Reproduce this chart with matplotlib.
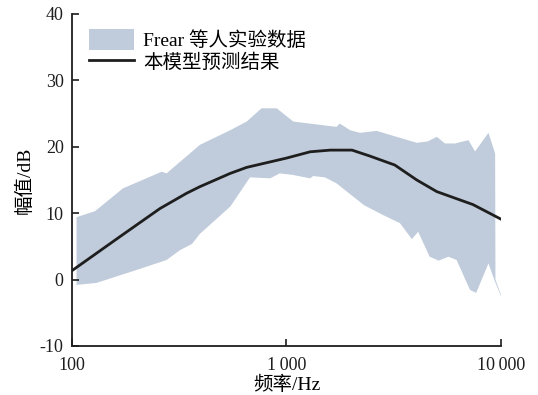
import numpy as np
import matplotlib
matplotlib.use("Agg")
import matplotlib.pyplot as plt
import matplotlib.patches as mpatches
from matplotlib.legend_handler import HandlerPatch

plt.rcParams['font.family'] = ['Liberation Serif', 'Noto Sans CJK SC', 'DejaVu Sans']
plt.rcParams['axes.unicode_minus'] = False

# Frear et al. measured range: upper and lower envelope (Hz, dB)
freq_upper = [105, 128, 173, 262, 276, 395, 547, 652, 765, 900, 1076, 1710, 1770,
              1980, 2200, 2630, 3260, 4050, 4540, 5020, 5480, 6100, 7050, 7570,
              8740, 9390, 9420, 10000]
amp_upper = [9.4, 10.3, 13.75, 16.25, 16.0, 20.3, 22.5, 23.8, 25.8, 25.8, 23.8, 23.0, 23.5,
             22.5, 22.1, 22.4, 21.5, 20.6, 20.8, 21.5, 20.5, 20.5, 21.0, 19.3,
             22.1, 19.0, 0.0, -2.3]

freq_lower = [105, 130, 200, 276, 319, 362, 395, 547, 676, 840, 930, 1076, 1220, 1290,
              1330, 1510, 1710, 2300, 2830, 3380, 3840, 4110, 4650, 5120, 5690, 6210,
              7170, 7660, 8740, 9300, 10000]
amp_lower = [-0.8, -0.5, 1.45, 2.95, 4.45, 5.35, 6.9, 11.0, 15.4, 15.25, 16.0, 15.75, 15.4, 15.25,
             15.6, 15.4, 14.5, 11.2, 9.7, 8.5, 6.1, 7.2, 3.45, 2.85, 3.45, 2.95,
             -1.55, -2.0, 2.45, 0.0, -2.5]

# Model prediction
freq_model = [100, 167, 257, 342, 395, 547, 652, 1000, 1290, 1600, 2020, 2450, 3200,
              4050, 5020, 7400, 10000]
amp_model = [1.35, 6.45, 10.7, 13.0, 14.0, 16.0, 16.9, 18.3, 19.25, 19.5, 19.5, 18.6, 17.25,
             15.0, 13.25, 11.3, 9.1]

x_ticks = [100, 1000, 10000]
x_ticklabels = ['100', '1\u2009000', '10\u2009000']
y_ticks = [-10, 0, 10, 20, 30, 40]

fig = plt.figure(figsize=(5.38, 3.95), dpi=100)
ax = fig.add_axes([72 / 538, 1 - 346 / 395, 429 / 538, 332 / 395])

band_x = np.concatenate([freq_upper, freq_lower[::-1]])
band_y = np.concatenate([amp_upper, amp_lower[::-1]])
ax.fill(band_x, band_y, color='#c0ccdb', lw=0, label='Frear 等人实验数据')
ax.plot(freq_model, amp_model, color='#1e1e1e', lw=2.0, label='本模型预测结果')

ax.set_xscale('log')
ax.set_xlim(100, 10000)
ax.set_ylim(-10, 40)
ax.set_xticks(x_ticks)
ax.set_xticklabels(x_ticklabels)
ax.set_yticks(y_ticks)
ax.minorticks_off()
ax.tick_params(direction='in', length=5, width=1.2, labelsize=13, colors='#1e1e1e')
ax.tick_params(axis='x', pad=8)
ax.tick_params(axis='y', pad=6)

for side in ('top', 'right'):
    ax.spines[side].set_visible(False)
for side in ('left', 'bottom'):
    ax.spines[side].set_linewidth(1.3)
    ax.spines[side].set_color('#1e1e1e')

ax.set_xlabel('频率/Hz', fontsize=14, labelpad=1)
ax.set_ylabel('幅值/dB', fontsize=14, labelpad=4)


def tall_swatch(legend, orig_handle, xdescent, ydescent, width, height, fontsize):
    # swatch a little taller than the legend row
    extra = 0.12 * height
    return mpatches.Rectangle((-xdescent, -ydescent - extra), width, height + 2 * extra)


leg = ax.legend(loc='upper left', bbox_to_anchor=(17 / 429, 1 - 17 / 332), frameon=False,
                fontsize=14, handlelength=2.3, handleheight=1.0, handletextpad=0.5,
                labelspacing=0.12, borderpad=0, borderaxespad=0,
                handler_map={mpatches.Polygon: HandlerPatch(patch_func=tall_swatch)})

fig.savefig('out.png', dpi=100)
